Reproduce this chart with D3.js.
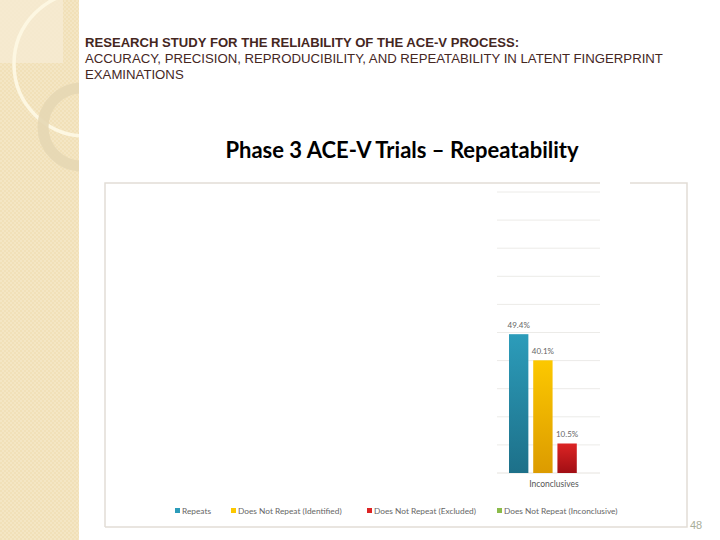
<!DOCTYPE html>
<html><head><meta charset="utf-8">
<script src="https://cdn.jsdelivr.net/npm/d3@7"></script>
<style>html,body{margin:0;padding:0;background:#fff;}svg{display:block;}</style>
</head><body>
<svg id="c" width="720" height="540"></svg>
<script>
const categories = ["Inconclusives"];
const seriesNames = ["Repeats", "Does Not Repeat (Identified)", "Does Not Repeat (Excluded)", "Does Not Repeat (Inconclusive)"];
const seriesValues = [[49.4], [40.1], [10.5], [0]];
const valueLabels = [["49.4%"], ["40.1%"], ["10.5%"], [""]];
const yTicks = [0,10,20,30,40,50,60,70,80,90,100];
const colors = [["#2c9cba","#1d7089"],["#fcc800","#dc9b00"],["#dc2424","#a10e14"],["#8bbb4a","#6a9a30"]];

const svg = d3.select("#c");
const defs = svg.append("defs");
const pat = defs.append("pattern").attr("id","chk").attr("width",4).attr("height",4).attr("patternUnits","userSpaceOnUse");
pat.append("rect").attr("width",4).attr("height",4).attr("fill","#f1e0b8");
pat.append("rect").attr("width",2).attr("height",2).attr("fill","#f4e6c4");
pat.append("rect").attr("x",2).attr("y",2).attr("width",2).attr("height",2).attr("fill","#f4e6c4");
colors.forEach((c,i)=>{
  const g = defs.append("linearGradient").attr("id","g"+i).attr("x1",0).attr("y1",0).attr("x2",0).attr("y2",1);
  g.append("stop").attr("offset","0%").attr("stop-color",c[0]);
  g.append("stop").attr("offset","100%").attr("stop-color",c[1]);
});
defs.append("clipPath").attr("id","strip").append("rect").attr("width",79).attr("height",540);

const strip = svg.append("g").attr("clip-path","url(#strip)");
strip.append("rect").attr("width",79).attr("height",540).attr("fill","url(#chk)");
strip.append("rect").attr("width",63).attr("height",63).attr("fill","#f6ebd3").attr("opacity",0.8);
strip.append("circle").attr("cx",86).attr("cy",64).attr("r",72).attr("fill","none").attr("stroke","#fdf7e2").attr("stroke-width",3.5);
strip.append("circle").attr("cx",82).attr("cy",127).attr("r",39).attr("fill","none").attr("stroke","#e6d7b4").attr("stroke-width",11).attr("opacity",0.9);

const hdrFont = "Liberation Sans, Arial, sans-serif";
svg.append("text").attr("x",85).attr("y",47).attr("font-family",hdrFont).attr("font-weight","bold").attr("font-size",13.1).attr("fill","#45271f").text("RESEARCH STUDY FOR THE RELIABILITY OF THE ACE-V PROCESS:");
svg.append("text").attr("x",85).attr("y",63).attr("font-family",hdrFont).attr("font-size",13.2).attr("fill","#45271f").text("ACCURACY, PRECISION, REPRODUCIBILITY, AND REPEATABILITY IN LATENT FINGERPRINT");
svg.append("text").attr("x",85).attr("y",79).attr("font-family",hdrFont).attr("font-size",13.2).attr("fill","#45271f").text("EXAMINATIONS");

svg.append("text").attr("x",402).attr("y",158).attr("text-anchor","middle").attr("font-family","Lato, 'Open Sans', sans-serif").attr("font-weight","bold").attr("font-size",22).attr("fill","#000").text("Phase 3 ACE-V Trials \u2013 Repeatability");

const frame = svg.append("g").attr("stroke","#e2ddd6").attr("stroke-width",1.5).attr("fill","none");
frame.append("path").attr("d","M105,527 V183 H600 M630,183 H687 V527 H105");

const y = d3.scaleLinear().domain([0,100]).range([473,192]);
const x0 = d3.scaleBand().domain(categories).range([509,601]).padding(0);
const x1 = d3.scaleBand().domain(d3.range(seriesNames.length)).range([0,x0.bandwidth()]).paddingInner(0.2).paddingOuter(0);

const grid = svg.append("g");
grid.selectAll("line").data(yTicks).join("line")
  .attr("x1",497).attr("x2",600).attr("y1",d=>y(d)).attr("y2",d=>y(d))
  .attr("stroke",d=>d===0?"#e6e3de":"#ecebe8").attr("stroke-width",1);

const groups = svg.append("g").selectAll("g").data(categories).join("g").attr("transform",c=>`translate(${x0(c)},0)`);
groups.each(function(c,ci){
  const g = d3.select(this);
  seriesValues.forEach((vals,si)=>{
    const v = vals[ci];
    if (v>0) g.append("rect").attr("x",x1(si)).attr("width",x1.bandwidth()).attr("y",y(v)).attr("height",y(0)-y(v)).attr("fill",`url(#g${si})`);
    if (valueLabels[si][ci]) g.append("text").attr("x",x1(si)+x1.bandwidth()/2).attr("y",y(v)-6).attr("text-anchor","middle")
      .attr("font-family","Lato, sans-serif").attr("font-size",8).attr("fill","#666").text(valueLabels[si][ci]);
  });
  g.append("text").attr("x",x0.bandwidth()/2 - 1).attr("y",487).attr("text-anchor","middle").attr("font-family","Lato, sans-serif").attr("font-size",8.5).attr("fill","#555").text(c);
});

const legX = [175, 231, 367, 497];
const leg = svg.append("g");
seriesNames.forEach((n,i)=>{
  leg.append("rect").attr("x",legX[i]).attr("y",508).attr("width",5).attr("height",5).attr("fill",colors[i][0]);
  leg.append("text").attr("x",legX[i]+7).attr("y",514).attr("font-family","Lato, sans-serif").attr("font-size",8.3).attr("fill","#666").text(n);
});

svg.append("text").attr("x",690).attr("y",529).attr("font-family",hdrFont).attr("font-size",11).attr("fill","#a8ae9a").text("48");
</script>
</body></html>
